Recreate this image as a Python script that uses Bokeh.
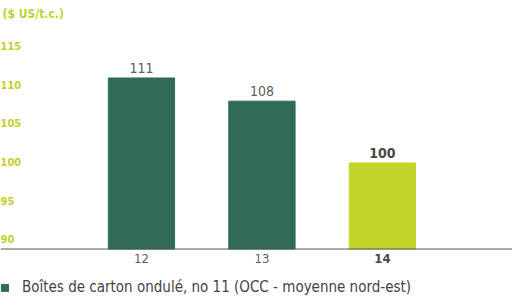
from bokeh.plotting import figure
from bokeh.models import ColumnDataSource, LabelSet, Range1d, Legend, LegendItem, Span
from bokeh.core.properties import value
from bokeh.embed import file_html
from bokeh.resources import INLINE

years = [12, 13, 14]
year_labels = ["12", "13", "14"]
values = [111, 108, 100]
value_labels = ["111", "108", "100"]
bar_colors = ["#2f6b57", "#2f6b57", "#c3d52b"]
highlight = [False, False, True]
y_ticks = [90, 95, 100, 105, 110, 115]
y_tick_labels = ["90", "95", "100", "105", "110", "115"]
unit_label = "($ US/t.c.)"
series_name = "Boîtes de carton ondulé, no 11 (OCC - moyenne nord-est)"

FONT = "DejaVu Sans Condensed"
TICK_GREEN = "#c2cf2e"

BASELINE = 88.85
x_range = Range1d(10.83, 15.08)
y_range = Range1d(82.7, 117.8)

p = figure(width=512, height=296, x_range=x_range, y_range=y_range,
           output_backend="svg", toolbar_location=None, x_axis_location=None,
           y_axis_location=None,
           min_border_left=0, min_border_right=0, min_border_top=0, min_border_bottom=0)

p.title.text = unit_label
p.title.text_color = TICK_GREEN
p.title.text_font = FONT
p.title.text_font_size = "12px"
p.title.text_font_style = "bold"
p.title.offset = 2
p.title.standoff = 9

src = ColumnDataSource(dict(x=years, top=values, color=bar_colors))
bars = p.vbar(x="x", top="top", bottom=BASELINE, width=0.55, color="color", source=src)

# baseline (x axis line)
p.add_layout(Span(location=BASELINE, dimension="width", line_color="#555555", line_width=1))


def sub(flag):
    idx = [i for i, h in enumerate(highlight) if h == flag]
    return ColumnDataSource(dict(
        x=[years[i] for i in idx],
        top=[values[i] for i in idx],
        vlab=[value_labels[i] for i in idx],
        xlab=[year_labels[i] for i in idx],
        base=[BASELINE] * len(idx)))


for flag, style, col in [(False, "normal", "#5e5e5e"), (True, "bold", "#474747")]:
    s = sub(flag)
    p.add_layout(LabelSet(x="x", y="top", text="vlab", source=s, text_align="center",
                          text_baseline="bottom", y_offset=5, text_font=value(FONT),
                          text_font_size=value("14px"), text_color=value(col),
                          text_font_style=value(style)))
    p.add_layout(LabelSet(x="x", y="base", text="xlab", source=s, text_align="center",
                          text_baseline="top", y_offset=-5, text_font=value(FONT),
                          text_font_size=value("13px"), text_color=value(col),
                          text_font_style=value(style)))

# y tick labels
ysrc = ColumnDataSource(dict(x=[x_range.start] * len(y_ticks), y=y_ticks, t=y_tick_labels))
p.add_layout(LabelSet(x="x", y="y", text="t", source=ysrc, text_align="left",
                      text_baseline="bottom", x_offset=0, y_offset=-3, text_font=value(FONT),
                      text_font_size=value("11px"), text_color=value(TICK_GREEN),
                      text_font_style=value("bold")))

p.xgrid.visible = False
p.ygrid.visible = False
p.outline_line_color = None

legend = Legend(items=[LegendItem(label=series_name, renderers=[bars], index=0)],
                location=(0, 0), orientation="horizontal",
                label_text_font=FONT, label_text_font_size="15px", label_text_color="#444444",
                border_line_color=None, background_fill_alpha=0,
                glyph_width=9, glyph_height=9, padding=1, margin=0, label_standoff=13)
p.add_layout(legend)

open("out.html", "w").write(file_html(p, INLINE))
